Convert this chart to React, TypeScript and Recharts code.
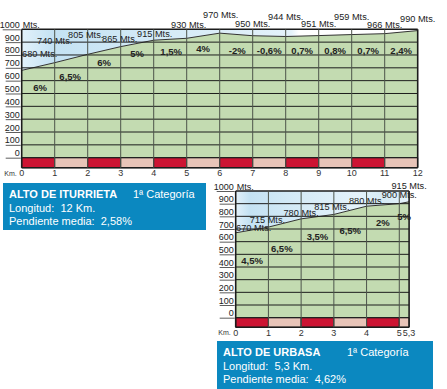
import React from "react";
import { Area, ComposedChart, ReferenceArea, ReferenceLine, Scatter, XAxis, YAxis } from "recharts";

// Alto de Iturrieta
const KM_1 = [0, 1, 2, 3, 4, 5, 6, 7, 8, 9, 10, 11, 12];
const ELEV_1 = [680, 740, 805, 865, 915, 930, 970, 950, 944, 951, 959, 966, 990];
const GRADE_1 = ["6%", "6,5%", "6%", "5%", "1,5%", "4%", "-2%", "-0,6%", "0,7%", "0,8%", "0,7%", "2,4%"];
const KM_LABELS_1 = ["0", "1", "2", "3", "4", "5", "6", "7", "8", "9", "10", "11", "12"];

// Alto de Urbasa
const KM_2 = [0, 1, 2, 3, 4, 5, 5.3];
const ELEV_2 = [670, 715, 780, 815, 880, 900, 915];
const GRADE_2 = ["4,5%", "6,5%", "3,5%", "6,5%", "2%", "5%"];
const KM_LABELS_2 = ["0", "1", "2", "3", "4", "5", "5,3"];

const ALT_TICKS = [0, 100, 200, 300, 400, 500, 600, 700, 800, 900, 1000];

// label nudges (px) relative to the point / segment middle
const ELEV_OFF_1 = [[18, -17], [0, -22], [-2, -20], [-1, -8], [1, -6], [2, -14], [1, -18], [0, -12], [0, -20], [0, -12], [0, -18], [0, -9], [0, -12]];
const GRADE_OFF_1 = [[2, 21], [-1, 18], [0, 12], [0, 10], [1, 12], [0, 13], [1, 16], [0, 15], [0, 15], [0, 16], [0, 17], [0, 19]];
const ELEV_OFF_2 = [[18, -5], [-1, -7], [0, -6], [-2, -8], [0, -5], [0, -9], [0, -16]];
const GRADE_OFF_2 = [[0, 31], [-3, 26], [0, 20], [0, 20], [0, 18], [0, 14]];

const FONT = "'Liberation Sans', Arial, sans-serif";
const NARROW = "'Liberation Sans Narrow', 'Liberation Sans', Arial, sans-serif";
const GREEN = "#c3dbb1";
const RED = "#cc1433";
const PINK = "#e8c4b8";
const BLUE = "#0b88c0";
const AXIS_W = 21.7;
const XAXIS_H = 12;

type ProfileProps = {
  id: string;
  km: number[];
  elev: number[];
  grades: string[];
  kmLabels: string[];
  elevOff: number[][];
  gradeOff: number[][];
  width: number;
  height: number;
  margin: { top: number; right: number; bottom: number; left: number };
  yMin: number;
  skyFade: boolean;
};

function Profile(p: ProfileProps) {
  const data = p.km.map((k, i) => ({ km: k, elev: p.elev[i], i }));
  const mids = p.grades.map((g, i) => ({
    km: (p.km[i] + p.km[i + 1]) / 2,
    elev: (p.elev[i] + p.elev[i + 1]) / 2,
    i,
    g,
  }));
  const left = p.margin.left + AXIS_W;
  const bottom = p.height - p.margin.bottom - XAXIS_H;
  const last = p.km[p.km.length - 1];

  const YTick = (t: any) => {
    const v = t.payload.value;
    const y = t.y;
    return (
      <g>
        <line x1={left - (v === 1000 ? 19 : 16)} x2={left - 1} y1={y + 0.5} y2={y + 0.5} stroke="#333" strokeWidth={0.8} />
        <text x={left - 2} y={y - 1.5} textAnchor="end" fontSize={9} fontFamily={NARROW} fill="#222">
          {v}
        </text>
        {v === 1000 && (
          <text x={left + 1} y={y - 1.5} fontSize={9} fontFamily={NARROW} fill="#222">
            Mts.
          </text>
        )}
      </g>
    );
  };

  const XTick = (t: any) => {
    const v = t.payload.value;
    const idx = p.km.indexOf(v);
    return (
      <g>
        {v === 0 && (
          <text x={t.x - 5} y={bottom + 8} textAnchor="end" fontSize={7} fontFamily={NARROW} fill="#333">
            Km.
          </text>
        )}
        <text x={t.x} y={bottom + 8.5} textAnchor="middle" fontSize={9} fontFamily={NARROW} fill="#333">
          {p.kmLabels[idx]}
        </text>
      </g>
    );
  };

  return (
    <ComposedChart width={p.width} height={p.height} data={data} margin={p.margin}>
      <defs>
        <linearGradient id={p.id + "sky"} x1="0" y1="0" x2="1" y2="0">
          <stop offset="0" stopColor="#e2f1fa" />
          <stop offset="0.08" stopColor="#c4e2f3" />
          <stop offset="0.3" stopColor="#d2e9f6" />
          <stop offset={p.skyFade ? "0.68" : "0.7"} stopColor="#e4f2fa" />
          {p.skyFade ? <stop offset="0.7" stopColor="#ffffff" /> : <stop offset="0.85" stopColor="#d6ebf6" />}
          {p.skyFade ? <stop offset="1" stopColor="#ffffff" /> : <stop offset="1" stopColor="#e6f3fa" />}
        </linearGradient>
      </defs>
      <XAxis
        dataKey="km"
        type="number"
        domain={[0, last]}
        ticks={p.km}
        height={XAXIS_H}
        axisLine={false}
        tickLine={false}
        tick={XTick}
        interval={0}
      />
      <YAxis
        type="number"
        domain={[p.yMin, 1000]}
        ticks={ALT_TICKS}
        width={AXIS_W}
        axisLine={false}
        tickLine={false}
        tick={YTick}
        interval={0}
      />
      <Area
        dataKey={(d: any) => [d.elev, 1000]}
        type="linear"
        stroke="none"
        fill={`url(#${p.id}sky)`}
        fillOpacity={1}
        isAnimationActive={false}
      />
      <Area
        dataKey="elev"
        type="linear"
        baseValue={0}
        stroke="#333"
        strokeWidth={1}
        fill={GREEN}
        fillOpacity={1}
        isAnimationActive={false}
      />
      {p.km.slice(0, -1).map((k, i) => (
        <ReferenceArea
          key={"band" + i}
          x1={k}
          x2={p.km[i + 1]}
          y1={p.yMin}
          y2={0}
          fill={i % 2 === 0 ? RED : PINK}
          fillOpacity={1}
          stroke="#222"
          strokeWidth={1}
        />
      ))}
      {ALT_TICKS.map((v) => (
        <ReferenceLine key={"h" + v} y={v} stroke="#1c1c1c" strokeWidth={v === 1000 ? 1.6 : 1} />
      ))}
      <ReferenceLine y={p.yMin} stroke="#1c1c1c" strokeWidth={1.4} />
      {p.km.map((k, i) => (
        <ReferenceLine
          key={"v" + i}
          x={k}
          stroke={i === 0 || i === p.km.length - 1 ? "#1c1c1c" : "#4d544b"}
          strokeWidth={i === 0 || i === p.km.length - 1 ? 1.6 : 1}
        />
      ))}
      <Scatter
        data={data}
        dataKey="elev"
        isAnimationActive={false}
        shape={(s: any) => {
          const i = s.payload.i;
          return (
            <text
              x={s.cx + p.elevOff[i][0]}
              y={s.cy + p.elevOff[i][1]}
              dy="0.35em"
              textAnchor="middle"
              fontSize={9.2}
              fontFamily={FONT}
              fill="#222"
            >
              {s.payload.elev} Mts.
            </text>
          );
        }}
      />
      <Scatter
        data={mids}
        dataKey="elev"
        isAnimationActive={false}
        shape={(s: any) => {
          const i = s.payload.i;
          return (
            <text
              x={s.cx + p.gradeOff[i][0]}
              y={s.cy + p.gradeOff[i][1]}
              dy="0.35em"
              textAnchor="middle"
              fontSize={9.5}
              fontWeight="bold"
              fontFamily={FONT}
              fill="#222"
            >
              {s.payload.g}
            </text>
          );
        }}
      />
    </ComposedChart>
  );
}

function InfoBox(props: { name: string; length: string; grade: string; style: React.CSSProperties }) {
  return (
    <div
      style={{
        position: "absolute",
        background: BLUE,
        color: "#fff",
        fontFamily: FONT,
        fontSize: 11,
        lineHeight: "13.5px",
        padding: "5px 0 0 6px",
        boxSizing: "border-box",
        ...props.style,
      }}
    >
      <div>
        <b style={{ display: "inline-block", width: 124 }}>{props.name}</b>1ª Categoría
      </div>
      <div>Longitud:&nbsp; {props.length}</div>
      <div>Pendiente media:&nbsp; {props.grade}</div>
    </div>
  );
}

export default function App() {
  return (
    <div style={{ position: "absolute", left: 0, top: 0, width: 447, height: 389, background: "#fff", overflow: "hidden" }}>
      <div style={{ position: "absolute", left: 0, top: 0 }}>
        <Profile
          id="p1"
          km={KM_1}
          elev={ELEV_1}
          grades={GRADE_1}
          kmLabels={KM_LABELS_1}
          elevOff={ELEV_OFF_1}
          gradeOff={GRADE_OFF_1}
          width={447}
          height={180}
          margin={{ top: 29.3, right: 29.3, bottom: 0.3, left: 0 }}
          yMin={-78}
          skyFade={true}
        />
      </div>
      <InfoBox name="ALTO DE ITURRIETA" length="12 Km." grade="2,58%" style={{ left: 3, top: 183, width: 203, height: 47 }} />
      <div style={{ position: "absolute", left: 0, top: 170 }}>
        <Profile
          id="p2"
          km={KM_2}
          elev={ELEV_2}
          grades={GRADE_2}
          kmLabels={KM_LABELS_2}
          elevOff={ELEV_OFF_2}
          gradeOff={GRADE_OFF_2}
          width={447}
          height={170}
          margin={{ top: 21, right: 37.9, bottom: 0.7, left: 214 }}
          yMin={-76}
          skyFade={false}
        />
      </div>
      <InfoBox name="ALTO DE URBASA" length="5,3 Km." grade="4,62%" style={{ left: 217, top: 341, width: 216, height: 48 }} />
    </div>
  );
}
